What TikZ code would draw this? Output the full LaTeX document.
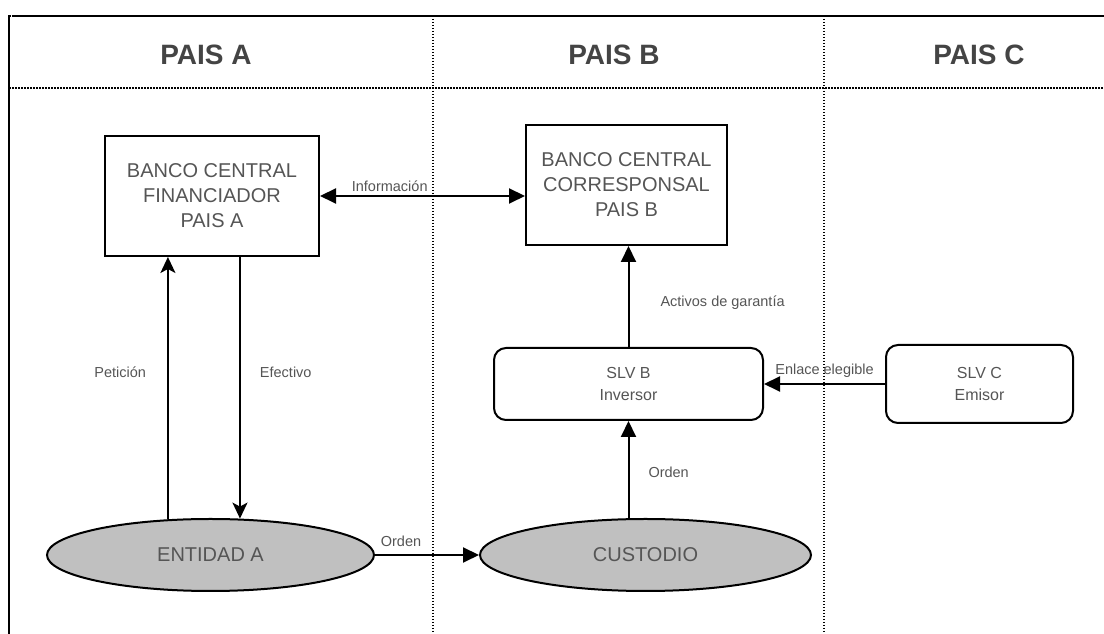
\documentclass[tikz,border=0pt]{standalone}
\usepackage{fontspec}
\setmainfont{Liberation Sans}
\usetikzlibrary{positioning,shapes.geometric,arrows.meta}
\definecolor{txtgray}{HTML}{555555}
\definecolor{hdrgray}{HTML}{444444}
\definecolor{ovalgray}{HTML}{C0C0C0}
\begin{document}
\begin{tikzpicture}[x=1pt,y=1pt,
    frame/.style={line width=2.2pt,dash pattern=on 2.5pt off .5pt},
    sep/.style={line width=1.5pt,dash pattern=on 1.5pt off 1.5pt},
    hdr/.style={font=\bfseries\fontsize{28}{32}\selectfont,text=hdrgray},
    bank/.style={draw,line width=2pt,minimum height=120pt,align=center,
      text=txtgray,font=\fontsize{20}{25}\selectfont},
    slv/.style={draw,line width=2pt,rounded corners=12pt,align=center,
      text=txtgray,font=\fontsize{16}{22}\selectfont},
    oval/.style={ellipse,draw,line width=2pt,fill=ovalgray,minimum height=72pt,
      inner sep=0pt,text=txtgray,font=\fontsize{20}{24}\selectfont},
    lbl/.style={font=\fontsize{14.5}{17}\selectfont,text=txtgray,inner sep=1pt},
    flow/.style={line width=2pt,-{Triangle[length=16pt,width=15pt]}},
    both/.style={line width=2pt,{Triangle[length=16pt,width=15pt]}-{Triangle[length=16pt,width=15pt]}},
    up/.style={line width=2pt,-{Stealth[length=16pt,width=15pt,inset=4pt]}}]
  \useasboundingbox (0,0) rectangle (1104,634);
  \draw[frame] (9,0) -- (9,618) -- (1104,618);
  \draw[sep] (9,546) -- (1104,546);
  \draw[sep] (433,618) -- (433,0);
  \draw[sep] (824,618) -- (824,0);

  \node[hdr] (hdrA) at (206,579) {PAIS A};
  \node[hdr] (hdrB) at (614,579) {PAIS B};
  \node[hdr] (hdrC) at (979,579) {PAIS C};

  \node[bank,minimum width=214pt] (finA) at (212,438) {BANCO CENTRAL\\FINANCIADOR\\PAIS A};
  \node[bank,minimum width=201pt] (corrB) at (626.5,449) {BANCO CENTRAL\\CORRESPONSAL\\PAIS B};
  \node[slv,minimum width=269pt,minimum height=72pt] (slvB) at (628.5,250) {SLV B\\Inversor};
  \node[slv,minimum width=187pt,minimum height=78pt] (slvC) at (979.5,250) {SLV C\\Emisor};
  \node[oval,minimum width=327pt] (entA) at (210.5,79) {ENTIDAD A};
  \node[oval,minimum width=331pt] (cust) at (645.5,79) {CUSTODIO};

  \draw[both] (finA.east) -- (finA.east -| corrB.west)
    node[lbl,above=2pt,pos=.34] {Información};
  \draw[up] (entA.140) -- (entA.140 |- finA.south)
    node[lbl,pos=.56,left=20pt] {Petición};
  \draw[up] (finA.south -| entA.51) -- (entA.51)
    node[lbl,pos=.44,right=18pt] {Efectivo};
  \draw[flow] (entA.east) -- (cust.west)
    node[lbl,above=6pt,pos=.25] {Orden};
  \draw[flow] (slvB.south |- cust.north) -- (slvB.south)
    node[lbl,pos=.47,right=18pt] {Orden};
  \draw[flow] (slvB.north) -- (slvB.north |- corrB.south)
    node[lbl,pos=.44,right=30pt] {Activos de garantía};
  \draw[flow] (slvC.west) -- (slvB.east)
    node[lbl,midway,above=4pt] {Enlace elegible};
\end{tikzpicture}
\end{document}
